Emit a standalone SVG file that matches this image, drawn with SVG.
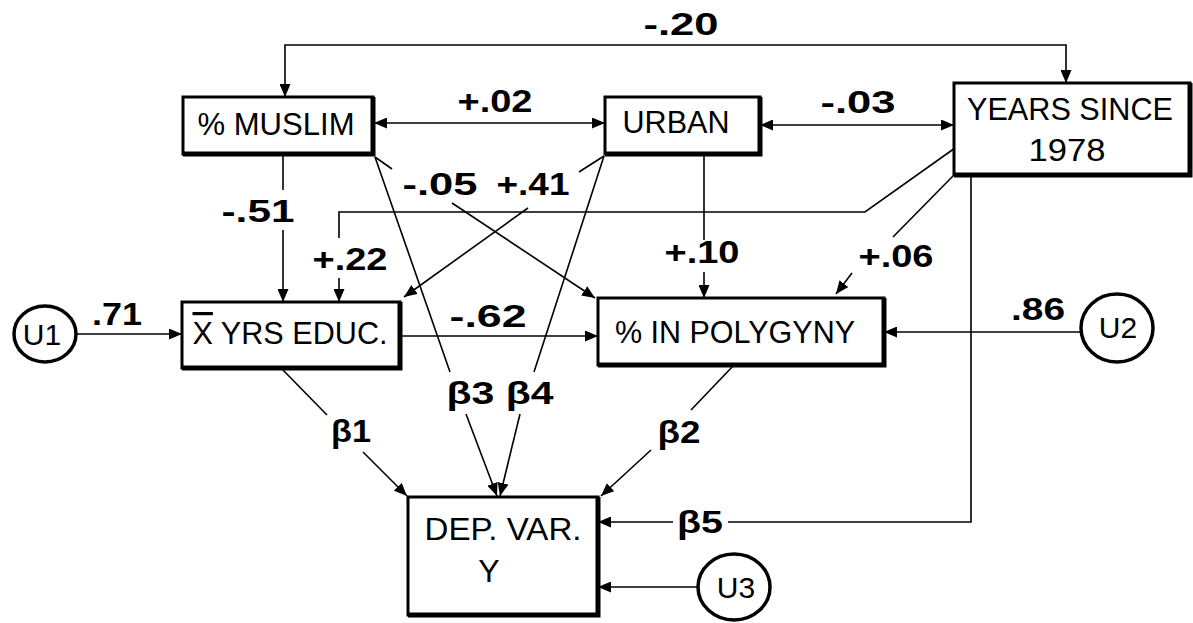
<svg xmlns="http://www.w3.org/2000/svg" width="1193" height="623" viewBox="0 0 1193 623">
<style>
  .box{fill:#fff;stroke:#000;stroke-width:3}
  .sh{fill:none;stroke:#000;stroke-width:5}
  .circ{fill:#fff;stroke:#000;stroke-width:3.5}
  .bt{font-family:"Liberation Sans",Arial,sans-serif;font-size:32px;fill:#000;text-anchor:middle}
  .ct{font-family:"Liberation Sans",Arial,sans-serif;font-size:30px;fill:#000;text-anchor:middle}
  .lb{font-family:"Liberation Sans",Arial,sans-serif;font-size:31px;font-weight:bold;fill:#000;text-anchor:middle}
  .ln{fill:none;stroke:#000;stroke-width:1.6}
</style>
<defs>
  <marker id="ah" viewBox="0 0 13 11" refX="13" refY="5.5" markerWidth="13" markerHeight="11" markerUnits="userSpaceOnUse" orient="auto-start-reverse">
    <path d="M0,0 L13,5.5 L0,11 z" fill="#000"/>
  </marker>
</defs>
<rect width="1193" height="623" fill="#fff"/>

<g id="connectors">
  <path class="ln" d="M285,97 V45 H1066 V83" marker-start="url(#ah)" marker-end="url(#ah)"/>
  <path class="ln" d="M374,123 H605" marker-start="url(#ah)" marker-end="url(#ah)"/>
  <path class="ln" d="M760,125 H954" marker-start="url(#ah)" marker-end="url(#ah)"/>
  <path class="ln" d="M283,154 V190"/>
  <path class="ln" d="M283,230 V302" marker-end="url(#ah)"/>
  <path class="ln" d="M955,148 L865,212 H339 V238"/>
  <path class="ln" d="M339,278 V302" marker-end="url(#ah)"/>
  <path class="ln" d="M76,334 H182" marker-end="url(#ah)"/>
  <path class="ln" d="M400,336 H598" marker-end="url(#ah)"/>
  <path class="ln" d="M1081,332 H884" marker-end="url(#ah)"/>
  <path class="ln" d="M704,154 V240"/>
  <path class="ln" d="M704,272 V298" marker-end="url(#ah)"/>
  <path class="ln" d="M953,176 L893,237"/>
  <path class="ln" d="M852,273 L836,294" marker-end="url(#ah)"/>
  <path class="ln" d="M375,157 L392,169"/>
  <path class="ln" d="M452,203 L595,298" marker-end="url(#ah)"/>
  <path class="ln" d="M604,156 L579,172"/>
  <path class="ln" d="M528,208 L404,297" marker-end="url(#ah)"/>
  <path class="ln" d="M375,157 L450,372"/>
  <path class="ln" d="M466,414 L497,496" marker-end="url(#ah)"/>
  <path class="ln" d="M604,156 L534,372"/>
  <path class="ln" d="M520,414 L500,496" marker-end="url(#ah)"/>
  <path class="ln" d="M281,368 L327,415"/>
  <path class="ln" d="M363,452 L407,496" marker-end="url(#ah)"/>
  <path class="ln" d="M734,365 L691,410"/>
  <path class="ln" d="M651,450 L601,496" marker-end="url(#ah)"/>
  <path class="ln" d="M971,176 V522 H728"/>
  <path class="ln" d="M673,522 H598" marker-end="url(#ah)"/>
  <path class="ln" d="M698,587 H598" marker-end="url(#ah)"/>
</g>

<g id="labels">
  <text class="lb" x="681" y="35" textLength="75" lengthAdjust="spacingAndGlyphs">-.20</text>
  <text class="lb" x="495" y="112" textLength="75" lengthAdjust="spacingAndGlyphs">+.02</text>
  <text class="lb" x="858" y="113" textLength="75" lengthAdjust="spacingAndGlyphs">-.03</text>
  <text class="lb" x="258" y="222" textLength="73" lengthAdjust="spacingAndGlyphs">-.51</text>
  <text class="lb" x="350" y="270" textLength="75" lengthAdjust="spacingAndGlyphs">+.22</text>
  <text class="lb" x="440" y="195" textLength="75" lengthAdjust="spacingAndGlyphs">-.05</text>
  <text class="lb" x="533" y="195" textLength="73" lengthAdjust="spacingAndGlyphs">+.41</text>
  <text class="lb" x="702" y="263" textLength="75" lengthAdjust="spacingAndGlyphs">+.10</text>
  <text class="lb" x="896" y="267" textLength="75" lengthAdjust="spacingAndGlyphs">+.06</text>
  <text class="lb" x="117" y="325" textLength="50" lengthAdjust="spacingAndGlyphs">.71</text>
  <text class="lb" x="488" y="327" textLength="77" lengthAdjust="spacingAndGlyphs">-.62</text>
  <text class="lb" x="1038" y="320" textLength="54" lengthAdjust="spacingAndGlyphs">.86</text>
  <text class="lb" x="351" y="442" textLength="40" lengthAdjust="spacingAndGlyphs">β1</text>
  <text class="lb" x="500" y="404" textLength="107" lengthAdjust="spacingAndGlyphs">β3 β4</text>
  <text class="lb" x="679" y="443" textLength="43" lengthAdjust="spacingAndGlyphs">β2</text>
  <text class="lb" x="700" y="533" textLength="46" lengthAdjust="spacingAndGlyphs">β5</text>
</g>

<g id="muslim">
  <rect class="box" x="183" y="97" width="190" height="57"/>
  <path class="sh" d="M183,154 H373 V97"/>
  <text class="bt" x="276" y="135" textLength="157" lengthAdjust="spacingAndGlyphs">% MUSLIM</text>
</g>
<g id="urban">
  <rect class="box" x="605" y="97" width="155" height="57"/>
  <path class="sh" d="M605,154 H760 V97"/>
  <text class="bt" x="676" y="133" textLength="107" lengthAdjust="spacingAndGlyphs">URBAN</text>
</g>
<g id="years">
  <rect class="box" x="954" y="83" width="236" height="92"/>
  <path class="sh" d="M954,175 H1190 V83"/>
  <text class="bt" x="1070" y="120" textLength="206" lengthAdjust="spacingAndGlyphs">YEARS SINCE</text>
  <text class="bt" x="1067" y="161" textLength="77" lengthAdjust="spacingAndGlyphs">1978</text>
</g>
<g id="educ">
  <rect class="box" x="182" y="302" width="218" height="66"/>
  <path class="sh" d="M182,368 H400 V302"/>
  <text class="bt" x="290" y="344" textLength="195" lengthAdjust="spacingAndGlyphs"><tspan text-decoration="overline">X</tspan> YRS EDUC.</text>
</g>
<g id="polygyny">
  <rect class="box" x="598" y="298" width="286" height="67"/>
  <path class="sh" d="M598,365 H884 V298"/>
  <text class="bt" x="735" y="343" textLength="240" lengthAdjust="spacingAndGlyphs">% IN POLYGYNY</text>
</g>
<g id="depvar">
  <rect class="box" x="408" y="497" width="190" height="118"/>
  <path class="sh" d="M408,615 H598 V497"/>
  <text class="bt" x="503" y="540" textLength="157" lengthAdjust="spacingAndGlyphs">DEP. VAR.</text>
  <text class="bt" x="489" y="582">Y</text>
</g>
<g id="u1">
  <ellipse class="circ" cx="45" cy="334" rx="31" ry="28"/>
  <text class="ct" x="42" y="345">U1</text>
</g>
<g id="u2">
  <ellipse class="circ" cx="1117" cy="328" rx="36" ry="34"/>
  <text class="ct" x="1118" y="338">U2</text>
</g>
<g id="u3">
  <ellipse class="circ" cx="734" cy="587" rx="36" ry="33"/>
  <text class="ct" x="736" y="598">U3</text>
</g>
</svg>
